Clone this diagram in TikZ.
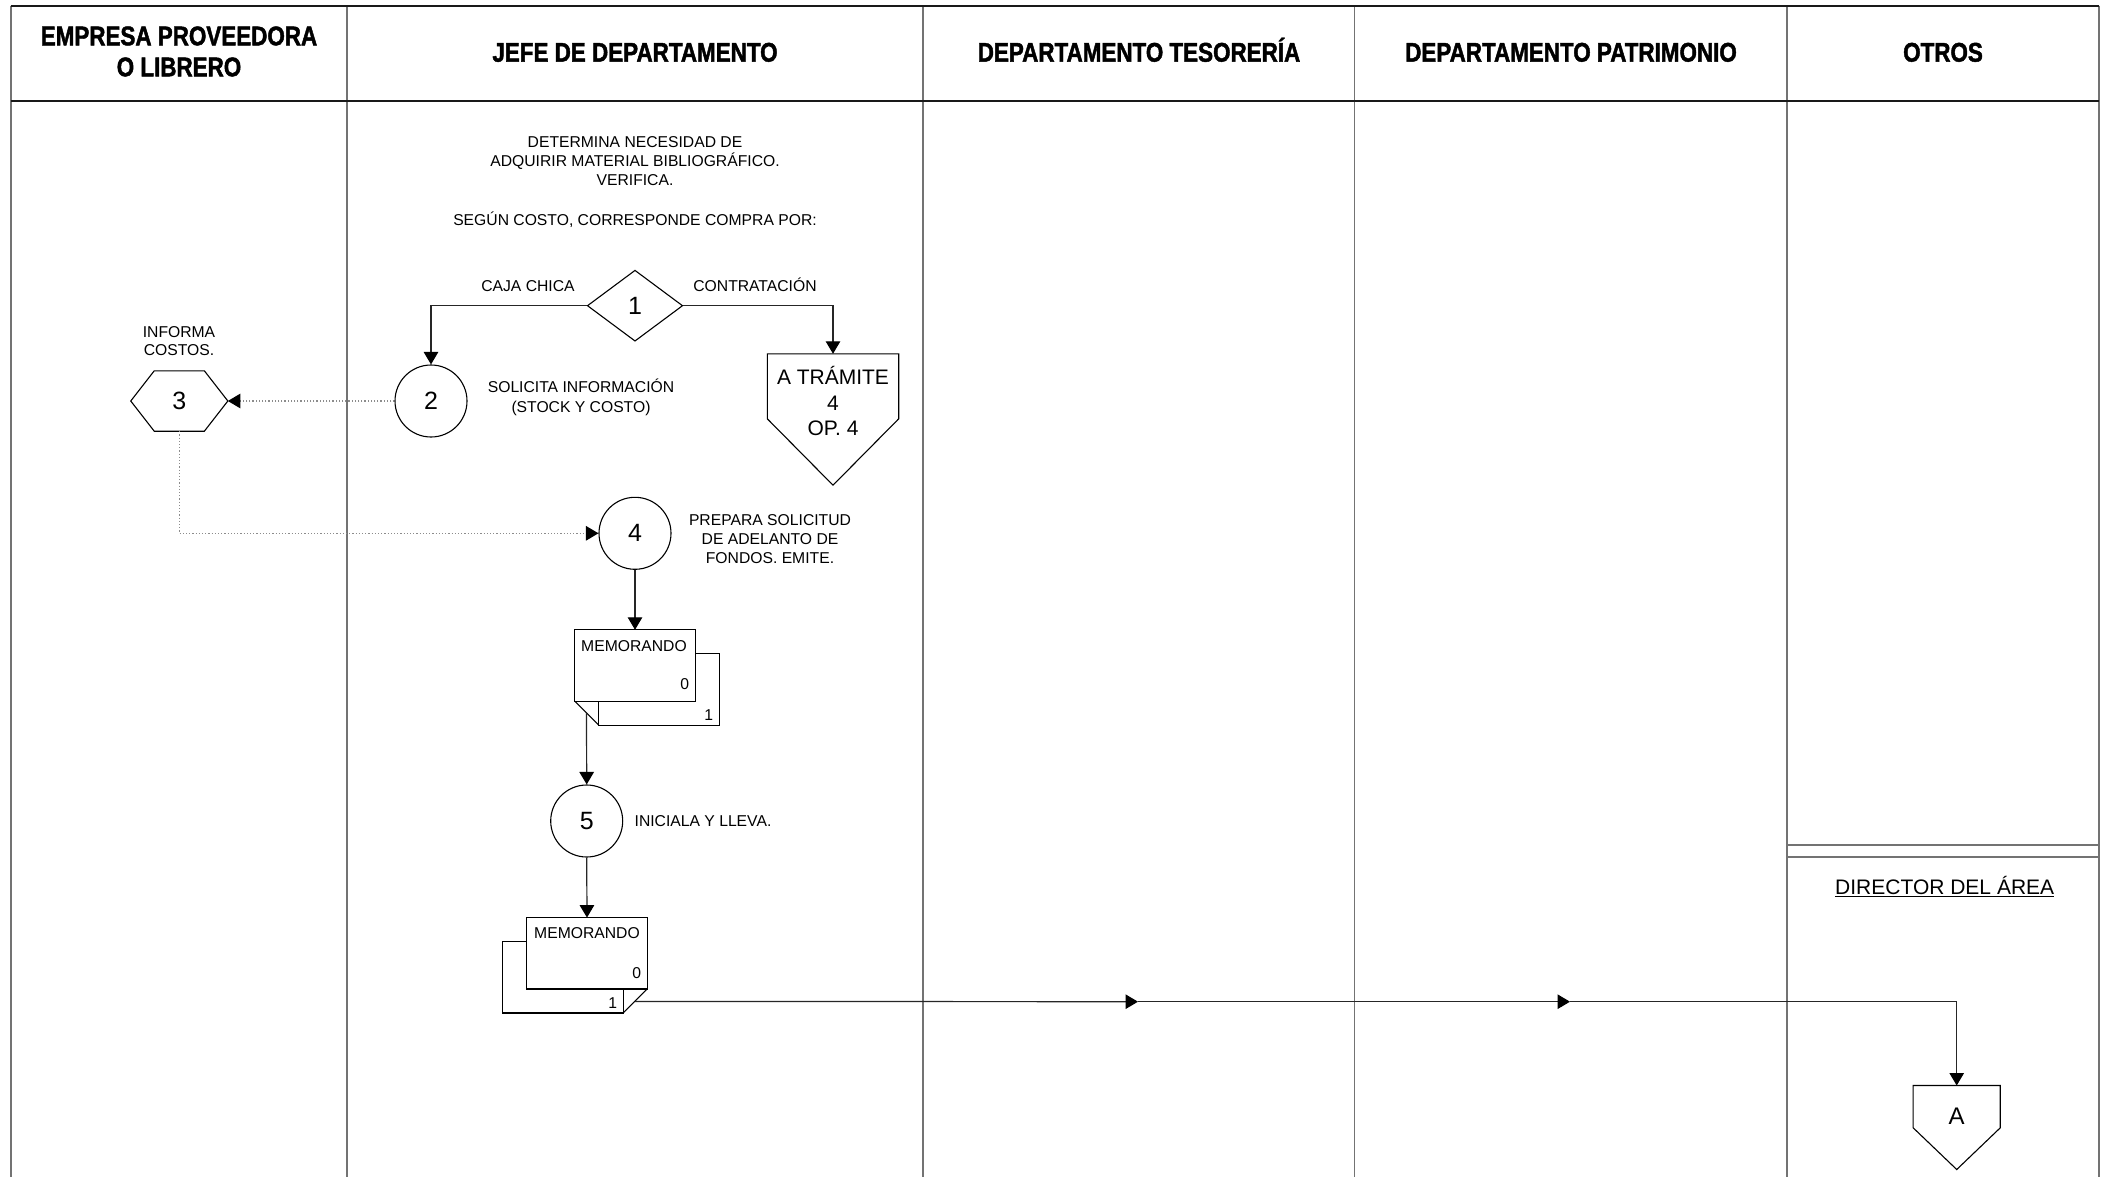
\documentclass[tikz,border=0pt]{standalone}
\usepackage{fontspec}
\setmainfont{Liberation Sans}
\newfontfamily\hdrfont[FakeStretch=0.83,FakeBold=1.6]{Liberation Sans}
\usetikzlibrary{arrows.meta,shapes.geometric,calc}

\begin{document}
\begin{tikzpicture}[x=1pt,y=-1pt,
  lane/.style={draw=black!55,line width=1.6pt},
  frame/.style={draw=black!90,line width=1.8pt},
  shapeline/.style={draw=black,line width=1.1pt},
  hdr/.style={font=\hdrfont\bfseries\fontsize{27}{31}\selectfont,align=center,inner sep=0},
  hdrline/.style={hdr,text height=19.3pt,text depth=0pt},
  txt/.style={font=\fontsize{15.7}{19.2}\selectfont,align=center,inner sep=0},
  capline/.style={txt,text height=11.2pt,text depth=0pt},
  num/.style={font=\fontsize{25}{30}\selectfont,inner sep=0},
  proc/.style={circle,shapeline,minimum size=72pt,num},
  doc/.style={minimum width=120pt,minimum height=71pt,inner sep=0},
  tip/.style={-{Triangle[length=12.5pt,width=14.5pt,color=black]}},
  flow/.style={draw=black!85,line width=1.2pt,tip},
  info/.style={draw=black!45,line width=1.2pt,dotted,tip},
]
\useasboundingbox (0,0) rectangle (2109,1177);
\fill[white] (0,0) rectangle (2109,1177);

% swimlanes
\foreach \x in {10.7,347,923,1354.5,1787,2099}
  \draw[lane] (\x,5.7) -- (\x,1177);
\draw[frame] (10.7,5.7) -- (2099,5.7);
\draw[frame] (10.7,101) -- (2099,101);
\draw[lane] (1787,845) -- (2099,845);
\draw[lane] (1787,857) -- (2099,857);

% lane headers
\node[hdr] (hEmp) at (179,51.5) {EMPRESA PROVEEDORA\\O LIBRERO};
\node[hdrline] (hJefe) at (635,52) {JEFE DE DEPARTAMENTO};
\node[hdrline] (hTes) at (1139,52) {DEPARTAMENTO TESORERÍA};
\node[hdrline] (hPat) at (1571,52) {DEPARTAMENTO PATRIMONIO};
\node[hdrline] (hOtr) at (1943,52) {OTROS};

% sub-area of OTROS
\node[capline,font=\fontsize{21}{25}\selectfont,text height=15pt] (dir) at (1944.7,886.7) {DIRECTOR DEL ÁREA};
\draw[line width=1.2pt] ($(dir.base west)+(0,2.2)$) -- ($(dir.base east)+(0,2.2)$);

% jefe de departamento: decision
\node[txt] (tDet) at (635,161) {DETERMINA NECESIDAD DE\\ADQUIRIR MATERIAL BIBLIOGRÁFICO.\\VERIFICA.};
\node[capline] (tSeg) at (635,220) {SEGÚN COSTO, CORRESPONDE COMPRA POR:};
\node[diamond,shapeline,minimum width=95.4pt,minimum height=71pt,num] (d1) at (635,305.7) {1};
\node[capline] (lCaja) at (528,286) {CAJA CHICA};
\node[capline] (lContr) at (755,286) {CONTRATACIÓN};

% operation 2
\node[proc] (c2) at (431,401) {2};
\node[txt] (tC2) at (581,397.3) {SOLICITA INFORMACIÓN\\(STOCK Y COSTO)};

% off-page connector to the contracting procedure
\node[minimum width=131pt,minimum height=131pt,inner sep=0] (tram) at (833,419.5) {};
\draw[shapeline] (tram.north west) -- (tram.north east) -- ++(0,65) -- (tram.south)
  -- ($(tram.north west)+(0,65)$) -- cycle;
\node[txt,font=\fontsize{21}{25.7}\selectfont] (tTram) at (833,401) {A TRÁMITE\\4\\OP. 4};

% provider: inspection 3
\node[minimum width=96.7pt,minimum height=60pt,num] (h3) at (179.3,401) {3};
\draw[shapeline] (h3.west) -- ($(h3.north west)+(23.5,0)$) -- ($(h3.north east)+(-23.5,0)$)
  -- (h3.east) -- ($(h3.south east)+(-23.5,0)$) -- ($(h3.south west)+(23.5,0)$) -- cycle;
\node[txt,font=\fontsize{15.7}{18.3}\selectfont] (tH3) at (179,341) {INFORMA\\COSTOS.};

% operation 4
\node[proc] (c4) at (635,533.3) {4};
\node[txt] (tC4) at (770,539.3) {PREPARA SOLICITUD\\DE ADELANTO DE\\FONDOS. EMITE.};

% memo (original and copy) issued
\path node[doc] (memo1) at (635,665.5) {};
\draw[shapeline,fill=white] ($(memo1.north west)+(24,24)$) rectangle ($(memo1.south east)+(24,24)$);
\draw[shapeline,fill=white] (memo1.north west) rectangle (memo1.south east);
\draw[shapeline] (memo1.south west) -- ($(memo1.south west)+(24,24)$);
\node[txt] at ($(memo1.center)+(-1,-19.8)$) {MEMORANDO};
\node[txt] at ($(memo1.center)+(49.7,18.5)$) {0};
\node[txt] at ($(memo1.center)+(73.7,49.5)$) {1};
\coordinate (m1fold) at ($(memo1.south west)+(11.7,11.7)$);

% operation 5
\node[proc] (c5) at (586.7,821) {5};
\node[capline] (tC5) at (703,821) {INICIALA Y LLEVA.};

% memo carried on
\path node[doc] (memo2) at (587,953.3) {};
\draw[shapeline,fill=white] ($(memo2.north west)+(-24,24)$) rectangle ($(memo2.south east)+(-24,24)$);
\draw[shapeline,fill=white] (memo2.north west) rectangle (memo2.south east);
\draw[shapeline] (memo2.south east) -- ($(memo2.south east)+(-24,24)$);
\node[txt] at ($(memo2.center)+(0,-20.3)$) {MEMORANDO};
\node[txt] at ($(memo2.center)+(49.7,19.4)$) {0};
\node[txt] at ($(memo2.center)+(25.7,49.7)$) {1};
\coordinate (m2fold) at ($(memo2.south east)+(-12.4,12.4)$);

% off-page connector A
\node[minimum width=86.7pt,minimum height=83.6pt,inner sep=0] (conA) at (1956.7,1127.5) {};
\draw[shapeline] (conA.north west) -- (conA.north east) -- ++(0,42.3) -- (conA.south)
  -- ($(conA.north west)+(0,42.3)$) -- cycle;
\node[num,font=\fontsize{24}{28}\selectfont] (tA) at (1956.7,1116.7) {A};

% connectors
\draw[flow] (d1.west) -- (c2.north |- d1.west) -- (c2.north);
\draw[flow] (d1.east) -- (tram.north |- d1.east) -- (tram.north);
\draw[info] (c2.west) -- (h3.east);
\draw[info] (h3.south) -- (h3.south |- c4.west) -- (c4.west);
\draw[flow] (c4.south) -- (memo1.north);
\draw[flow] (m1fold) -- (c5.north);
\draw[flow] (c5.south) -- (memo2.north);
\coordinate (mk1) at (1138,1001.7);
\coordinate (mk2) at (1570,1001.7);
\coordinate (turn) at (conA.north |- mk1);
\draw[flow] (m2fold) -- (mk1);
\draw[flow] (mk1) -- (mk2);
\draw[flow] (mk2) -- (turn) -- (conA.north);
\end{tikzpicture}
\end{document}
